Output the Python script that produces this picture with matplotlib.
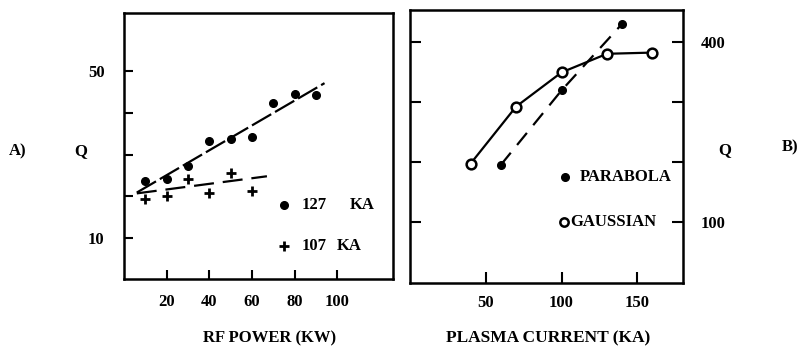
import matplotlib
matplotlib.use("Agg")
import matplotlib.pyplot as plt

plt.rcParams['font.family'] = ['Liberation Serif', 'DejaVu Serif']
plt.rcParams['font.weight'] = 'bold'
plt.rcParams['font.size'] = 12

# panel A: Q against RF power for two plasma currents
power_127 = [10, 20, 30, 40, 50, 60, 70, 80, 90]
q_127 = [23.7, 24.1, 27.3, 33.2, 33.8, 34.1, 42.4, 44.4, 44.3]
power_107 = [10, 20, 30, 40, 50, 60]
q_107 = [19.3, 20.1, 24.1, 20.9, 25.5, 21.3]

# hand-drawn trend lines (end points)
trend_127_power = [6, 94]
trend_127_q = [20.9, 47.1]
trend_107_power = [6, 67]
trend_107_q = [20.7, 24.8]

power_ticks = [20, 40, 60, 80, 100]
q_ticks_a = [10, 20, 30, 40, 50]
q_labels_a = ['10', '', '', '', '50']

# panel B: Q against plasma current for two profiles
current_parabola = [60, 100, 140]
q_parabola = [195, 319, 430]
current_gaussian = [40, 70, 100, 130, 160]
q_gaussian = [197, 292, 349, 380, 382]

current_ticks = [50, 100, 150]
q_ticks_b = [100, 200, 300, 400]
q_labels_b = ['100', '', '', '400']

fig = plt.figure(figsize=(8, 3.54), dpi=100)
ax1 = fig.add_axes([0.155, 0.2119, 0.336, 0.7514])
ax2 = fig.add_axes([0.5125, 0.2006, 0.341, 0.7712])

for ax in (ax1, ax2):
    for sp in ax.spines.values():
        sp.set_linewidth(1.8)

# --- A ---
ax1.plot(trend_127_power, trend_127_q, color='black', lw=1.6, linestyle=(0, (10, 2)))
ax1.plot(trend_107_power, trend_107_q, color='black', lw=1.6, linestyle=(0, (9, 4)))
ax1.plot(power_127, q_127, 'o', color='black', ms=5.5)
ax1.plot(power_107, q_107, '+', color='black', ms=7, mew=2)

ax1.set_xlim(0, 126)
ax1.set_ylim(0.2, 63.9)
ax1.set_xticks(power_ticks)
ax1.set_xticklabels([str(v) for v in power_ticks])
ax1.set_yticks(q_ticks_a)
ax1.set_yticklabels(q_labels_a)
ax1.tick_params(direction='in', length=6.5, width=1.5, top=False, right=False)
ax1.tick_params(axis='x', pad=11)
ax1.tick_params(axis='y', pad=14)

ax1.plot([0.595], [0.278], 'o', color='black', ms=5.5, transform=ax1.transAxes, clip_on=False)
ax1.text(0.662, 0.278, '127', transform=ax1.transAxes, va='center', ha='left')
ax1.text(0.840, 0.278, 'KA', transform=ax1.transAxes, va='center', ha='left')
ax1.plot([0.595], [0.124], '+', color='black', ms=7, mew=2, transform=ax1.transAxes, clip_on=False)
ax1.text(0.662, 0.124, '107', transform=ax1.transAxes, va='center', ha='left')
ax1.text(0.792, 0.124, 'KA', transform=ax1.transAxes, va='center', ha='left')

# --- B ---
ax2.plot(current_parabola, q_parabola, color='black', lw=1.6, linestyle=(0, (7, 4.5)),
         marker='o', ms=5.5)
ax2.plot(current_gaussian, q_gaussian, color='black', lw=1.6, marker='o', ms=7,
         mfc='white', mew=1.8)

ax2.set_xlim(0, 180)
ax2.set_ylim(-2, 453)
ax2.set_xticks(current_ticks)
ax2.set_xticklabels([str(v) for v in current_ticks])
ax2.set_yticks(q_ticks_b)
ax2.set_yticklabels(q_labels_b)
ax2.tick_params(direction='in', length=8, width=1.5, left=True, right=True,
                labelleft=False, labelright=True)
ax2.tick_params(axis='x', pad=9)
ax2.tick_params(axis='y', pad=13)

ax2.plot([0.568], [0.388], 'o', color='black', ms=5.5, transform=ax2.transAxes, clip_on=False)
ax2.text(0.623, 0.388, 'PARABOLA', transform=ax2.transAxes, va='center', ha='left')
ax2.plot([0.564], [0.222], 'o', color='black', ms=6, mfc='white', mew=1.8,
         transform=ax2.transAxes, clip_on=False)
ax2.text(0.586, 0.222, 'GAUSSIAN', transform=ax2.transAxes, va='center', ha='left')

# outer labels
fig.text(270 / 800, 1 - 338 / 354, 'RF POWER (KW)', ha='center', va='center', fontsize=12)
fig.text(548 / 800, 1 - 338 / 354, 'PLASMA CURRENT (KA)', ha='center', va='center', fontsize=12.5)
fig.text(18 / 800, 1 - 151 / 354, 'A)', ha='center', va='center')
fig.text(81 / 800, 1 - 151 / 354, 'Q', ha='center', va='center')
fig.text(725 / 800, 1 - 150 / 354, 'Q', ha='center', va='center')
fig.text(790 / 800, 1 - 147 / 354, 'B)', ha='center', va='center')

fig.savefig('out.png', dpi=100)
